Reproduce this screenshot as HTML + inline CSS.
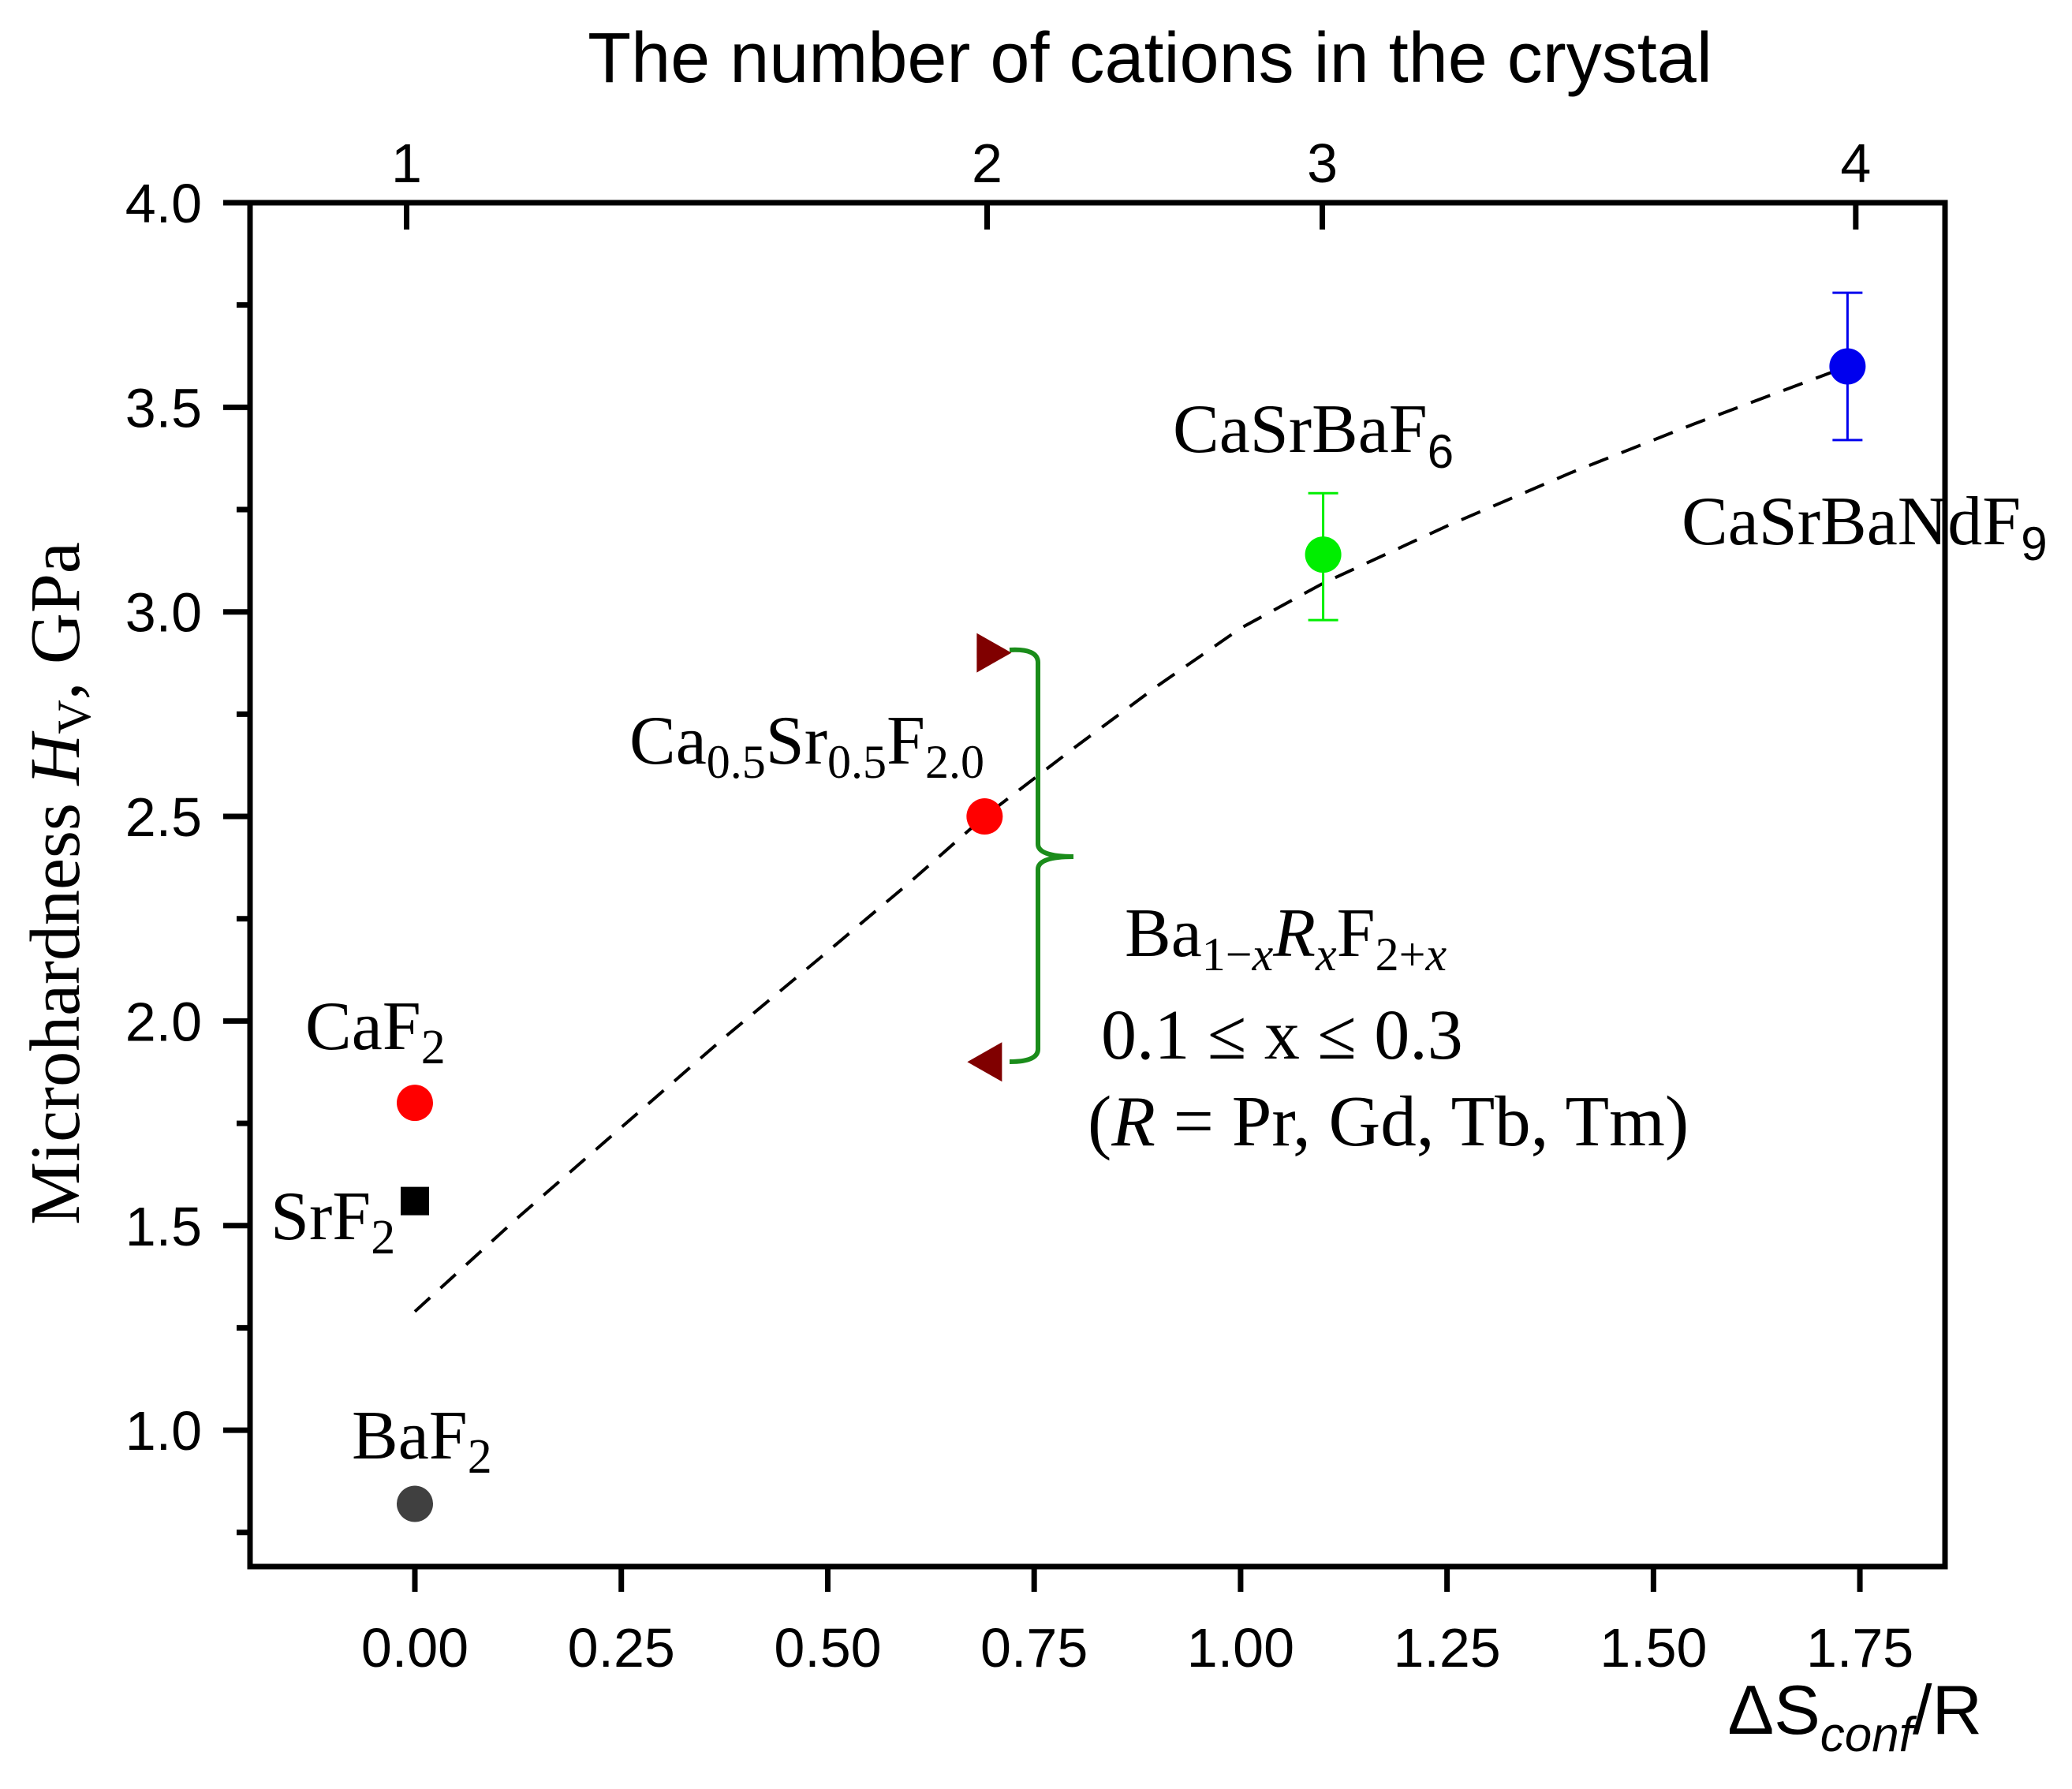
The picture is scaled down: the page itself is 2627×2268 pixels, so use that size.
<!DOCTYPE html>
<html><head><meta charset="utf-8"><style>
html,body{margin:0;padding:0;background:#fff;}
svg{display:block;}
.ax{font-family:"Liberation Sans",sans-serif;}
.tm{font-family:"Liberation Serif",serif;}
</style></head><body>
<svg id="chart" width="2627" height="2268" viewBox="0 0 2627 2268" xmlns="http://www.w3.org/2000/svg">
<g id="axes"></g>
<g id="marks"></g>
<text class="ax" x="1458" y="104" font-size="90" text-anchor="middle">The number of cations in the crystal</text>
<text class="ax" x="2513" y="2198" font-size="88" text-anchor="end">ΔS<tspan font-style="italic" font-size="62" dy="22">conf</tspan><tspan dy="-22">/R</tspan></text>
<text class="tm" transform="translate(100,1120) rotate(-90)" font-size="90" text-anchor="middle">Microhardness <tspan font-style="italic">H</tspan><tspan font-size="60" dy="14">V</tspan><tspan dy="-14">, GPa</tspan></text>
<text class="tm" x="387" y="1330" font-size="88">CaF<tspan font-size="62" dy="18">2</tspan></text>
<text class="tm" x="343" y="1571" font-size="88">SrF<tspan font-size="62" dy="18">2</tspan></text>
<text class="tm" x="446" y="1849" font-size="88">BaF<tspan font-size="62" dy="18">2</tspan></text>
<text class="tm" x="798" y="968" font-size="88">Ca<tspan font-size="60" dy="18">0.5</tspan><tspan dy="-18">Sr</tspan><tspan font-size="60" dy="18">0.5</tspan><tspan dy="-18">F</tspan><tspan font-size="60" dy="18">2.0</tspan></text>
<text class="tm" x="1487" y="573" font-size="88">CaSrBaF<tspan class="ax" font-size="60" dy="20">6</tspan></text>
<text class="tm" x="2132" y="690" font-size="88">CaSrBaNdF<tspan class="ax" font-size="60" dy="20">9</tspan></text>
<text class="tm" x="1426" y="1212" font-size="88">Ba<tspan font-size="60" dy="18">1−<tspan font-style="italic">x</tspan></tspan><tspan dy="-18" font-style="italic">R</tspan><tspan font-size="60" dy="18" font-style="italic">x</tspan><tspan dy="-18">F</tspan><tspan font-size="60" dy="18">2+<tspan font-style="italic">x</tspan></tspan></text>
<text class="tm" x="1396" y="1342" font-size="90">0.1 ≤ x ≤ 0.3</text>
<text class="tm" x="1379" y="1452" font-size="91">(<tspan font-style="italic">R</tspan> = Pr, Gd, Tb, Tm)</text>
<path d="M1280,824 Q1316,822 1316,840 L1316,1070 Q1316,1086 1361,1086 Q1316,1086 1316,1102 L1316,1330 Q1316,1346 1280,1346" fill="none" stroke="#1a8c1a" stroke-width="6"/>
</svg>
<script>
const xTickVals=[0,0.25,0.5,0.75,1.0,1.25,1.5,1.75];
const xTickLabels=["0.00","0.25","0.50","0.75","1.00","1.25","1.50","1.75"];
const yTickVals=[1.0,1.5,2.0,2.5,3.0,3.5,4.0];
const yTickLabels=["1.0","1.5","2.0","2.5","3.0","3.5","4.0"];
const yMinorVals=[0.75,1.25,1.75,2.25,2.75,3.25,3.75];
const topTickVals=[-0.01,0.693,1.099,1.745];
const topTickLabels=["1","2","3","4"];
const circleX=[0,0,0.69,1.10,1.735];
const circleY=[1.80,0.82,2.50,3.14,3.60];
const circleColors=["#ff0000","#404040","#ff0000","#00ee00","#0000ee"];
const circleNames=["point-caf2","point-baf2","point-ca-sr-f","point-casrbaf6","point-casrbandf9"];
const errX=[1.10,1.735];
const errLow=[2.98,3.42];
const errHigh=[3.29,3.78];
const errColors=["#00ee00","#0000ee"];
const squareX=[0];
const squareY=[1.56];
const triX=[0.69,0.69];
const triY=[2.90,1.90];
const triDir=[1,-1];
const fitX=[0,0.125,0.25,0.375,0.5,0.6,0.69,0.8,0.9,1.0,1.1,1.25,1.4,1.55,1.735];
const fitY=[1.29,1.52,1.74,1.96,2.17,2.34,2.50,2.67,2.82,2.96,3.07,3.21,3.34,3.46,3.60];

const X0=526,XS=1046.9,Y4=257,YS=518.7;
const L=317,R=2466,T=257,B=1986;
const sx=v=>X0+v*XS, sy=v=>Y4+(4-v)*YS;
const NS="http://www.w3.org/2000/svg";
function mk(tag,attrs,parent){const e=document.createElementNS(NS,tag);for(const k in attrs)e.setAttribute(k,attrs[k]);parent.appendChild(e);return e;}
const ax=document.getElementById('axes'), mg=document.getElementById('marks');
let e;
e=mk('rect',{x:L,y:T,width:R-L,height:B-T,fill:'none',stroke:'#000','stroke-width':7},ax);


xTickVals.forEach((v,i)=>{
  e=mk('line',{x1:sx(v),x2:sx(v),y1:B,y2:B+32,stroke:'#000','stroke-width':7},ax);
  
  
  e=mk('text',{x:sx(v),y:2113,'font-size':70,'text-anchor':'middle','class':'ax'},ax);
  e.textContent=xTickLabels[i];
  
  
});
yTickVals.forEach((v,i)=>{
  e=mk('line',{x1:L-34,x2:L,y1:sy(v),y2:sy(v),stroke:'#000','stroke-width':7},ax);
  
  
  e=mk('text',{x:256,y:sy(v)+25,'font-size':70,'text-anchor':'end','class':'ax'},ax);
  e.textContent=yTickLabels[i];
  
  
});
yMinorVals.forEach(v=>{
  e=mk('line',{x1:L-17,x2:L,y1:sy(v),y2:sy(v),stroke:'#000','stroke-width':7},ax);
  
  
});
topTickVals.forEach((v,i)=>{
  e=mk('line',{x1:sx(v),x2:sx(v),y1:T,y2:T+34,stroke:'#000','stroke-width':7},ax);
  
  
  e=mk('text',{x:sx(v),y:231,'font-size':70,'text-anchor':'middle','class':'ax'},ax);
  e.textContent=topTickLabels[i];
  
  
});
e=mk('polyline',{points:fitX.map((v,i)=>sx(v)+','+sy(fitY[i])).join(' '),fill:'none',stroke:'#000','stroke-width':4,'stroke-dasharray':'26,18','stroke-linejoin':'round'},mg);


errX.forEach((v,i)=>{
  const g=mk('g',{stroke:errColors[i],'stroke-width':3},mg);
  
  
  mk('line',{x1:sx(v),x2:sx(v),y1:sy(errLow[i]),y2:sy(errHigh[i])},g);
  mk('line',{x1:sx(v)-19,x2:sx(v)+19,y1:sy(errLow[i]),y2:sy(errLow[i])},g);
  mk('line',{x1:sx(v)-19,x2:sx(v)+19,y1:sy(errHigh[i]),y2:sy(errHigh[i])},g);
});
circleX.forEach((v,i)=>{
  e=mk('circle',{cx:sx(v),cy:sy(circleY[i]),r:23,fill:circleColors[i]},mg);
  
  
});
squareX.forEach((v,i)=>{
  e=mk('rect',{x:sx(v)-18,y:sy(squareY[i])-18,width:36,height:36,fill:'#000'},mg);
  
  
});
triX.forEach((v,i)=>{
  const cx=sx(v)+(triDir[i]>0?12:0), cy=sy(triY[i]), d=triDir[i];
  e=mk('polygon',{points:`${cx-22*d},${cy-25} ${cx+22*d},${cy} ${cx-22*d},${cy+25}`,fill:'#800000'},mg);
  
  
});
</script>
</body></html>
